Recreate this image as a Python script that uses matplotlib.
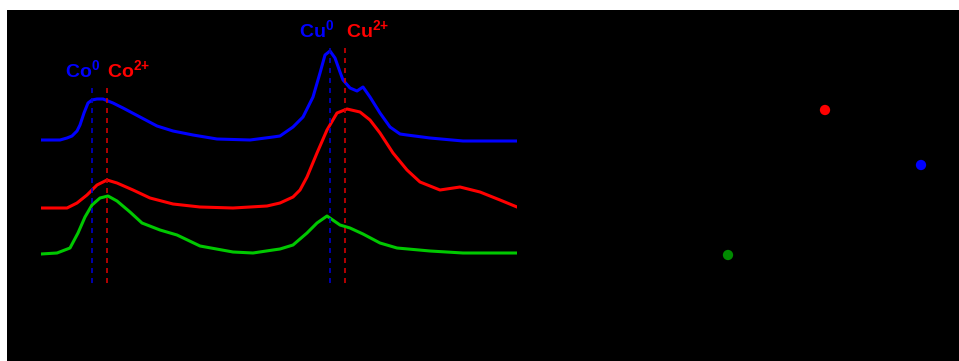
import matplotlib
matplotlib.use("Agg")
import matplotlib.pyplot as plt
from matplotlib.patches import Rectangle

plt.rcParams['font.family'] = ['Liberation Sans', 'DejaVu Sans']
plt.rcParams['mathtext.fontset'] = 'custom'
plt.rcParams['mathtext.bf'] = 'Liberation Sans:bold'
plt.rcParams['mathtext.rm'] = 'Liberation Sans'

# left panel: spectra (energy in eV, stacked intensity)
e_blue = [770.0, 777.6, 780.4, 782.4, 784.4, 785.6, 787.2, 788.8, 790.4, 792.4, 794.8, 796.8,
          798.8, 802.8, 809.6, 816.4, 822.8, 830.8, 840.4, 853.6, 862.8, 865.6, 870.8, 874.8,
          878.8, 881.6, 883.6, 885.6, 887.6, 889.6, 890.8, 893.6, 896.4, 898.8, 901.6, 905.6,
          909.6, 913.6, 916.4, 925.6, 938.8, 960.4]
i_blue = [1.60, 1.60, 1.62, 1.64, 1.69, 1.75, 1.87, 1.97, 2.00, 2.01, 2.01, 1.99,
          1.97, 1.92, 1.83, 1.74, 1.69, 1.65, 1.61, 1.60, 1.63, 1.64, 1.73, 1.83,
          2.03, 2.27, 2.45, 2.49, 2.42, 2.28, 2.20, 2.12, 2.09, 2.13, 2.03, 1.87,
          1.73, 1.66, 1.65, 1.62, 1.59, 1.59]

e_red = [770.0, 780.4, 784.4, 788.4, 792.4, 796.4, 800.4, 806.8, 813.6, 822.8, 833.6, 846.8,
         860.4, 865.6, 870.8, 873.6, 876.4, 880.4, 884.4, 888.4, 892.4, 897.6, 901.6, 905.6,
         910.8, 916.4, 921.6, 929.6, 937.6, 945.6, 953.6, 960.4]
i_red = [0.92, 0.92, 0.97, 1.05, 1.15, 1.20, 1.17, 1.10, 1.02, 0.96, 0.93, 0.92,
         0.94, 0.97, 1.03, 1.10, 1.23, 1.47, 1.70, 1.87, 1.91, 1.88, 1.80, 1.67,
         1.47, 1.30, 1.18, 1.10, 1.13, 1.08, 1.00, 0.93]

e_green = [770.0, 776.4, 781.6, 784.8, 787.6, 790.4, 793.6, 796.8, 800.4, 805.6, 810.4, 817.6,
           824.4, 833.6, 846.8, 854.8, 862.8, 865.6, 870.8, 876.4, 880.4, 884.4, 889.6, 893.6,
           898.8, 905.6, 912.4, 925.6, 938.8, 960.4]
i_green = [0.46, 0.47, 0.52, 0.67, 0.83, 0.95, 1.02, 1.04, 0.99, 0.88, 0.77, 0.70,
           0.65, 0.54, 0.48, 0.47, 0.50, 0.51, 0.55, 0.67, 0.77, 0.84, 0.75, 0.72,
           0.66, 0.57, 0.52, 0.49, 0.47, 0.47]

# reference positions
co_refs = [790.4, 796.4]
cu_refs = [885.6, 891.6]
ref_labels = [r'$\mathbf{Co^{0}}$', r'$\mathbf{Co^{2{+}}}$', r'$\mathbf{Cu^{0}}$', r'$\mathbf{Cu^{2{+}}}$']

# right panel: points
pt_x = [1.08, 2.05, 3.01]
pt_y = [0.45, 1.90, 1.35]
pt_colors = ['#008a00', '#ff0000', '#0000ff']

W, H = 959, 361
fig = plt.figure(figsize=(W / 100, H / 100), dpi=100, facecolor='white')
fig.add_artist(Rectangle((7 / W, 0), 1 - 7 / W, 1 - 10 / H, transform=fig.transFigure,
                         facecolor='black', edgecolor='none', zorder=0))

ax1 = fig.add_axes([41 / W, 61 / H, 476 / W, 280 / H])
ax1.patch.set_visible(False)
ax1.axis('off')
ax1.set_xlim(770, 960.4)
ax1.set_ylim(0, 2.8)

ax1.plot(e_blue, i_blue, color='#0000ff', lw=2.2)
ax1.plot(e_red, i_red, color='#ff0000', lw=2.2)
ax1.plot(e_green, i_green, color='#00c800', lw=2.2)

dash_cols = ['#0000c8', '#d00000']
ax1.vlines(co_refs, 0.17, 2.12, colors=dash_cols, linestyles=(0, (3, 3)), lw=1.2)
ax1.vlines(cu_refs, 0.17, 2.55, colors=dash_cols, linestyles=(0, (3, 3)), lw=1.2)

ax1.text(779.6, 2.30, ref_labels[0], color='#0000ff', fontsize=14, va='center', ha='left')
ax1.text(796.4, 2.30, ref_labels[1], color='#ff0000', fontsize=14, va='center', ha='left')
ax1.text(873.2, 2.70, ref_labels[2], color='#0000ff', fontsize=14, va='center', ha='left')
ax1.text(892.0, 2.70, ref_labels[3], color='#ff0000', fontsize=14, va='center', ha='left')

ax2 = fig.add_axes([620 / W, 61 / H, 320 / W, 260 / H])
ax2.patch.set_visible(False)
ax2.axis('off')
ax2.set_xlim(0, 3.2)
ax2.set_ylim(0, 2.6)
ax2.scatter(pt_x, pt_y, c=pt_colors, s=55, edgecolors='none')

fig.savefig('out.png', dpi=100, facecolor=fig.get_facecolor())
